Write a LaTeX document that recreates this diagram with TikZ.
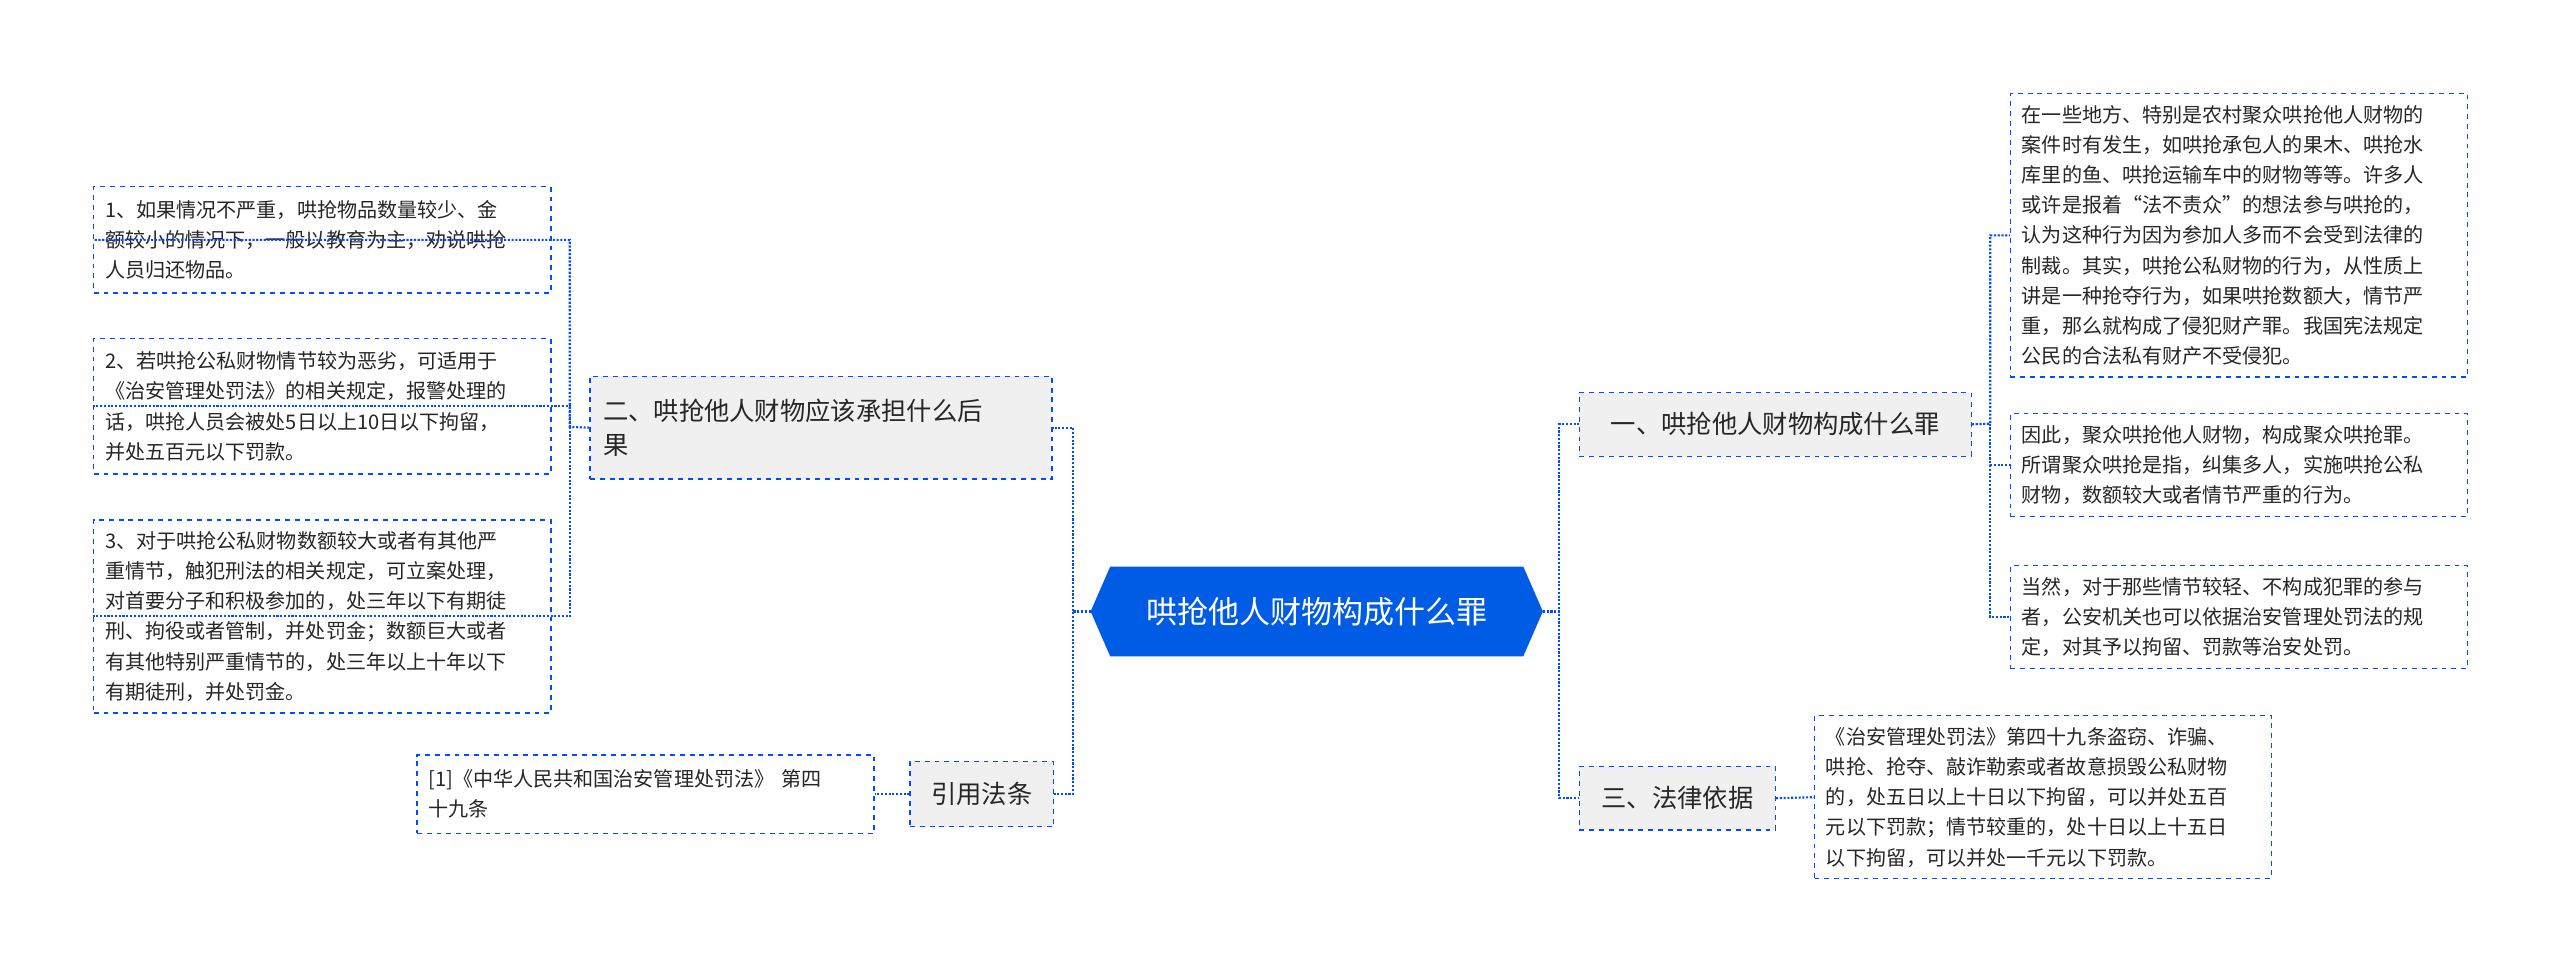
\documentclass[tikz,border=0pt]{standalone}
\usepackage{fontspec}
\setmainfont{Noto Sans CJK SC}
\begin{document}
\begin{tikzpicture}[x=1pt,y=-1pt,
  leaf/.style={draw=blue!70!cyan,dashed,line width=0.8pt,anchor=north west,align=left,font=\fontsize{12.3}{18.5}\selectfont,inner sep=7pt,text=black!85,minimum width=280pt,text width=266pt},
  branch/.style={draw=blue!70!cyan,dashed,line width=0.8pt,fill=gray!12,anchor=north west,align=left,font=\fontsize{15.5}{21}\selectfont,inner sep=8pt,text=black!85},
  conn/.style={draw=blue!70!cyan,densely dotted,line width=1.3pt}]
\useasboundingbox (0,0) rectangle (1568,595);
\fill[white] (0,0) rectangle (1568,595);
% central
\fill[blue!60!cyan!90!black] (680,347)--(933,347)--(945,374.5)--(933,402)--(680,402)--(668,374.5)--cycle;
\node[text=white,font=\fontsize{19}{22}\selectfont] (c) at (806.5,374.5) {哄抢他人财物构成什么罪};
\coordinate (cR) at (945,374.5); \coordinate (cL) at (668,374.5);
% branches
\node[branch,minimum width=240pt,minimum height=39pt] (b1) at (967,240) {一、哄抢他人财物构成什么罪};
\node[branch,minimum width=120pt,minimum height=39pt] (b3) at (967,469) {三、法律依据};
\node[branch,minimum width=283pt,minimum height=63pt,text width=267pt] (b2) at (361,230) {二、哄抢他人财物应该承担什么后\\果};
\node[branch,minimum width=88pt,minimum height=40pt] (b4) at (557,466) {引用法条};
% right leaves
\node[leaf,minimum height=166pt] (r1) at (1231,57) {在一些地方、特别是农村聚众哄抢他人财物的\\案件时有发生，如哄抢承包人的果木、哄抢水\\库里的鱼、哄抢运输车中的财物等等。许多人\\或许是报着“法不责众”的想法参与哄抢的，\\认为这种行为因为参加人多而不会受到法律的\\制裁。其实，哄抢公私财物的行为，从性质上\\讲是一种抢夺行为，如果哄抢数额大，情节严\\重，那么就构成了侵犯财产罪。我国宪法规定\\公民的合法私有财产不受侵犯。};
\node[leaf,minimum height=63pt] (r2) at (1231,253) {因此，聚众哄抢他人财物，构成聚众哄抢罪。\\所谓聚众哄抢是指，纠集多人，实施哄抢公私\\财物，数额较大或者情节严重的行为。};
\node[leaf,minimum height=63pt] (r3) at (1231,346) {当然，对于那些情节较轻、不构成犯罪的参与\\者，公安机关也可以依据治安管理处罚法的规\\定，对其予以拘留、罚款等治安处罚。};
\node[leaf,minimum height=99pt] (r4) at (1111,438) {《治安管理处罚法》第四十九条盗窃、诈骗、\\哄抢、抢夺、敲诈勒索或者故意损毁公私财物\\的，处五日以上十日以下拘留，可以并处五百\\元以下罚款；情节较重的，处十日以上十五日\\以下拘留，可以并处一千元以下罚款。};
% left leaves
\node[leaf,minimum height=65pt] (l1) at (57,114) {1、如果情况不严重，哄抢物品数量较少、金\\额较小的情况下，一般以教育为主，劝说哄抢\\人员归还物品。};
\node[leaf,minimum height=83pt] (l2) at (57,207) {2、若哄抢公私财物情节较为恶劣，可适用于\\《治安管理处罚法》的相关规定，报警处理的\\话，哄抢人员会被处5日以上10日以下拘留，\\并处五百元以下罚款。};
\node[leaf,minimum height=115pt] (l3) at (57,318) {3、对于哄抢公私财物数额较大或者有其他严\\重情节，触犯刑法的相关规定，可立案处理，\\对首要分子和积极参加的，处三年以下有期徒\\刑、拘役或者管制，并处罚金；数额巨大或者\\有其他特别严重情节的，处三年以上十年以下\\有期徒刑，并处罚金。};
\node[leaf,minimum height=48pt] (l4) at (255,462) {[1]《中华人民共和国治安管理处罚法》 第四\\十九条};
% connectors
\draw[conn] (cR) -- (955,374.5) |- (b1.west);
\draw[conn] (cR) -- (955,374.5) |- (b3.west);
\draw[conn] (cL) -- (657,374.5) |- (b2.east);
\draw[conn] (cL) -- (657,374.5) |- (b4.east);
\draw[conn] (b1.east) -- (1219,259.5) |- (r1.west);
\draw[conn] (1219,259.5) |- (r2.west);
\draw[conn] (1219,259.5) |- (r3.west);
\draw[conn] (b3.east) -- (r4.west);
\draw[conn] (b2.west) -- (349,261.5) |- (l1.west);
\draw[conn] (349,261.5) |- (l2.west);
\draw[conn] (349,261.5) |- (l3.west);
\draw[conn] (b4.west) -- (l4.east);
\end{tikzpicture}
\end{document}
